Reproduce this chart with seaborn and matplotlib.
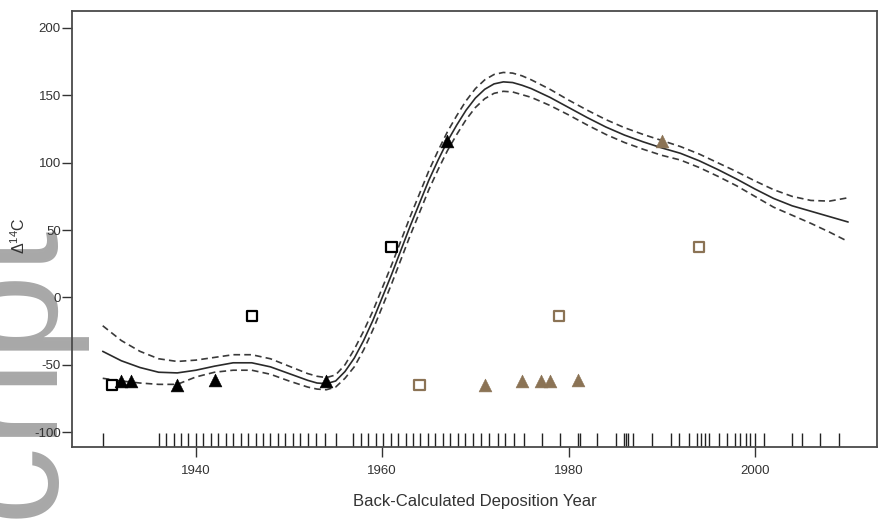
import matplotlib
matplotlib.use("Agg")
import matplotlib.pyplot as plt
import seaborn as sns

# ---- fitted curve with confidence band ----
fit_years = [1930, 1932, 1934, 1936, 1938, 1940, 1942, 1944, 1946, 1948, 1950,
             1952, 1953, 1954, 1955, 1956, 1957, 1958, 1959, 1960, 1961, 1962,
             1963, 1964, 1965, 1966, 1967, 1968, 1969, 1970, 1971, 1972, 1973,
             1974, 1975, 1976, 1978, 1980, 1982, 1984, 1986, 1988, 1990, 1992,
             1994, 1996, 1998, 2000, 2002, 2004, 2006, 2008, 2010]
fit_mid = [-40, -47, -52, -55.5, -56, -54, -51, -48.5, -48.5, -51.5, -56.5,
           -61.5, -63.5, -64, -62, -55, -45, -32, -17, 0, 17, 35,
           53, 70, 87, 102, 116, 128, 139, 148, 154.5, 158.5, 160,
           159.5, 157.5, 155, 148.5, 141, 133.5, 126.5, 120.5, 115.5, 111, 107,
           101.5, 95, 88, 80.5, 73.5, 68, 64, 60, 56]
fit_upper = [-21, -32, -40, -45.5, -47.5, -46.5, -44.5, -42.5, -42.5, -45.5, -51,
             -56.5, -58.5, -59.5, -57.5, -50, -38.5, -25, -10, 7, 24, 42,
             60, 77, 94, 109, 123, 135, 146, 155, 161.5, 165.5, 167,
             166.5, 164.5, 161.5, 154.5, 146.5, 139, 132, 126, 121, 116.5, 112,
             106.5, 100, 93.5, 86.5, 80, 75, 72, 71.5, 74]
fit_lower = [-60, -62, -63.5, -64.5, -64.5, -59, -55.5, -54, -54, -57, -62,
             -66.5, -68, -68.5, -66.5, -60, -51.5, -39, -24, -7, 10, 28,
             46, 63, 80, 95, 109, 121, 132, 141, 147.5, 151.5, 153,
             152.5, 150.5, 148.5, 142.5, 135.5, 128, 121, 115, 110, 105.5, 102,
             96.5, 90, 83, 75, 67, 61, 55, 48.5, 41.5]

# ---- observations ----
ref_tri_years = [1932, 1933, 1938, 1942, 1954, 1967]
ref_tri_d14c = [-62, -62, -65, -61, -62, 116]
ref_sq_years = [1931, 1946, 1961]
ref_sq_d14c = [-65, -14, 37.6]

samp_tri_years = [1971, 1975, 1977, 1978, 1981, 1990]
samp_tri_d14c = [-65, -62, -62, -62, -61, 116]
samp_sq_years = [1964, 1979, 1994]
samp_sq_d14c = [-65, -14, 37.6]

# ---- deposition years of all samples (rug) ----
rug_years = [1930.0,
             1936.0, 1936.8, 1937.6, 1938.4, 1939.2, 1940.0, 1940.8, 1941.6,
             1942.4, 1943.2, 1944.0, 1944.8, 1945.6, 1946.4, 1947.2, 1948.0,
             1948.8, 1949.6, 1950.4, 1951.2, 1952.0, 1952.9, 1953.9, 1955.0,
             1956.9, 1957.7, 1958.5, 1959.3, 1960.1, 1960.9, 1961.7, 1962.5,
             1963.3, 1964.1, 1964.9, 1965.7, 1966.5, 1967.3, 1968.1, 1968.9,
             1969.7, 1970.6, 1971.5, 1972.4, 1973.2, 1974.1, 1975.2,
             1977.1, 1979.1, 1981.0, 1981.2, 1983.0, 1985.1, 1986.0, 1986.2,
             1986.4, 1986.9, 1989.0, 1991.0, 1991.9, 1992.9, 1993.8, 1994.2,
             1994.6, 1995.1, 1996.1, 1997.0, 1997.9, 1998.4, 1999.0, 1999.5,
             2000.0, 2001.0, 2004.0, 2005.0, 2007.0, 2009.0]

x_ticks = [1940, 1960, 1980, 2000]
y_ticks = [-100, -50, 0, 50, 100, 150, 200]

sns.set_theme(style="white")
plt.rcParams["font.family"] = ["Liberation Sans", "DejaVu Sans"]
plt.rcParams["mathtext.default"] = "regular"

fig = plt.figure(figsize=(8.83, 5.19), dpi=100)
ax = fig.add_axes([0.0815, 0.1387, 0.9117, 0.8401])
ax.set_facecolor("none")

line_col = "#2a2a2a"
brown = "#8b7355"

sns.lineplot(x=fit_years, y=fit_mid, ax=ax, color=line_col, lw=1.2,
             estimator=None, sort=False)
for band in (fit_upper, fit_lower):
    sns.lineplot(x=fit_years, y=band, ax=ax, color="#3a3a3a", lw=1.2,
                 estimator=None, sort=False, linestyle=(0, (4, 2.5)))

sns.rugplot(x=rug_years, ax=ax, height=0.033, color="#222222", lw=1.1)

sns.scatterplot(x=ref_sq_years, y=ref_sq_d14c, ax=ax, marker="s", s=55,
                facecolor="none", edgecolor="black", linewidth=1.6, zorder=4)
sns.scatterplot(x=samp_sq_years, y=samp_sq_d14c, ax=ax, marker="s", s=55,
                facecolor="none", edgecolor=brown, linewidth=1.6, zorder=4)
sns.scatterplot(x=ref_tri_years, y=ref_tri_d14c, ax=ax, marker="^", s=85,
                color="black", edgecolor="black", linewidth=0.4, zorder=5)
sns.scatterplot(x=samp_tri_years, y=samp_tri_d14c, ax=ax, marker="^", s=85,
                color=brown, edgecolor=brown, linewidth=0.4, zorder=5)

ax.set_xlim(1926.7, 2013.1)
ax.set_ylim(-111, 212.6)
ax.set_xticks(x_ticks)
ax.set_yticks(y_ticks)
ax.set_xticklabels([str(t) for t in x_ticks])
ax.set_yticklabels([str(t) for t in y_ticks])

for side in ("left", "bottom", "top", "right"):
    ax.spines[side].set_visible(True)
    ax.spines[side].set_color("#4a4a4a")
    ax.spines[side].set_linewidth(1.3)

ax.tick_params(axis="x", direction="out", length=7, width=1.0, color="#333333",
               labelsize=9.5, labelcolor="#333333", pad=6, bottom=True)
ax.tick_params(axis="y", direction="out", length=7, width=1.0, color="#333333",
               labelsize=9.5, labelcolor="#333333", pad=1, left=True)

ax.set_xlabel("Back-Calculated Deposition Year", fontsize=12, color="#333333",
              labelpad=12)
ax.set_ylabel(r"$\Delta^{14}$C", fontsize=11.5, color="#333333")
ax.yaxis.set_label_coords(-0.055, 0.484)

# journal watermark along the left edge
fig.text(45 / 883, 1 - 217 / 519, "Manuscript", rotation=90,
         rotation_mode="anchor", ha="right", va="baseline", fontsize=112,
         color="#a8a8a8", zorder=-1, family="Liberation Sans")

fig.savefig("out.png", dpi=100, facecolor="white")
